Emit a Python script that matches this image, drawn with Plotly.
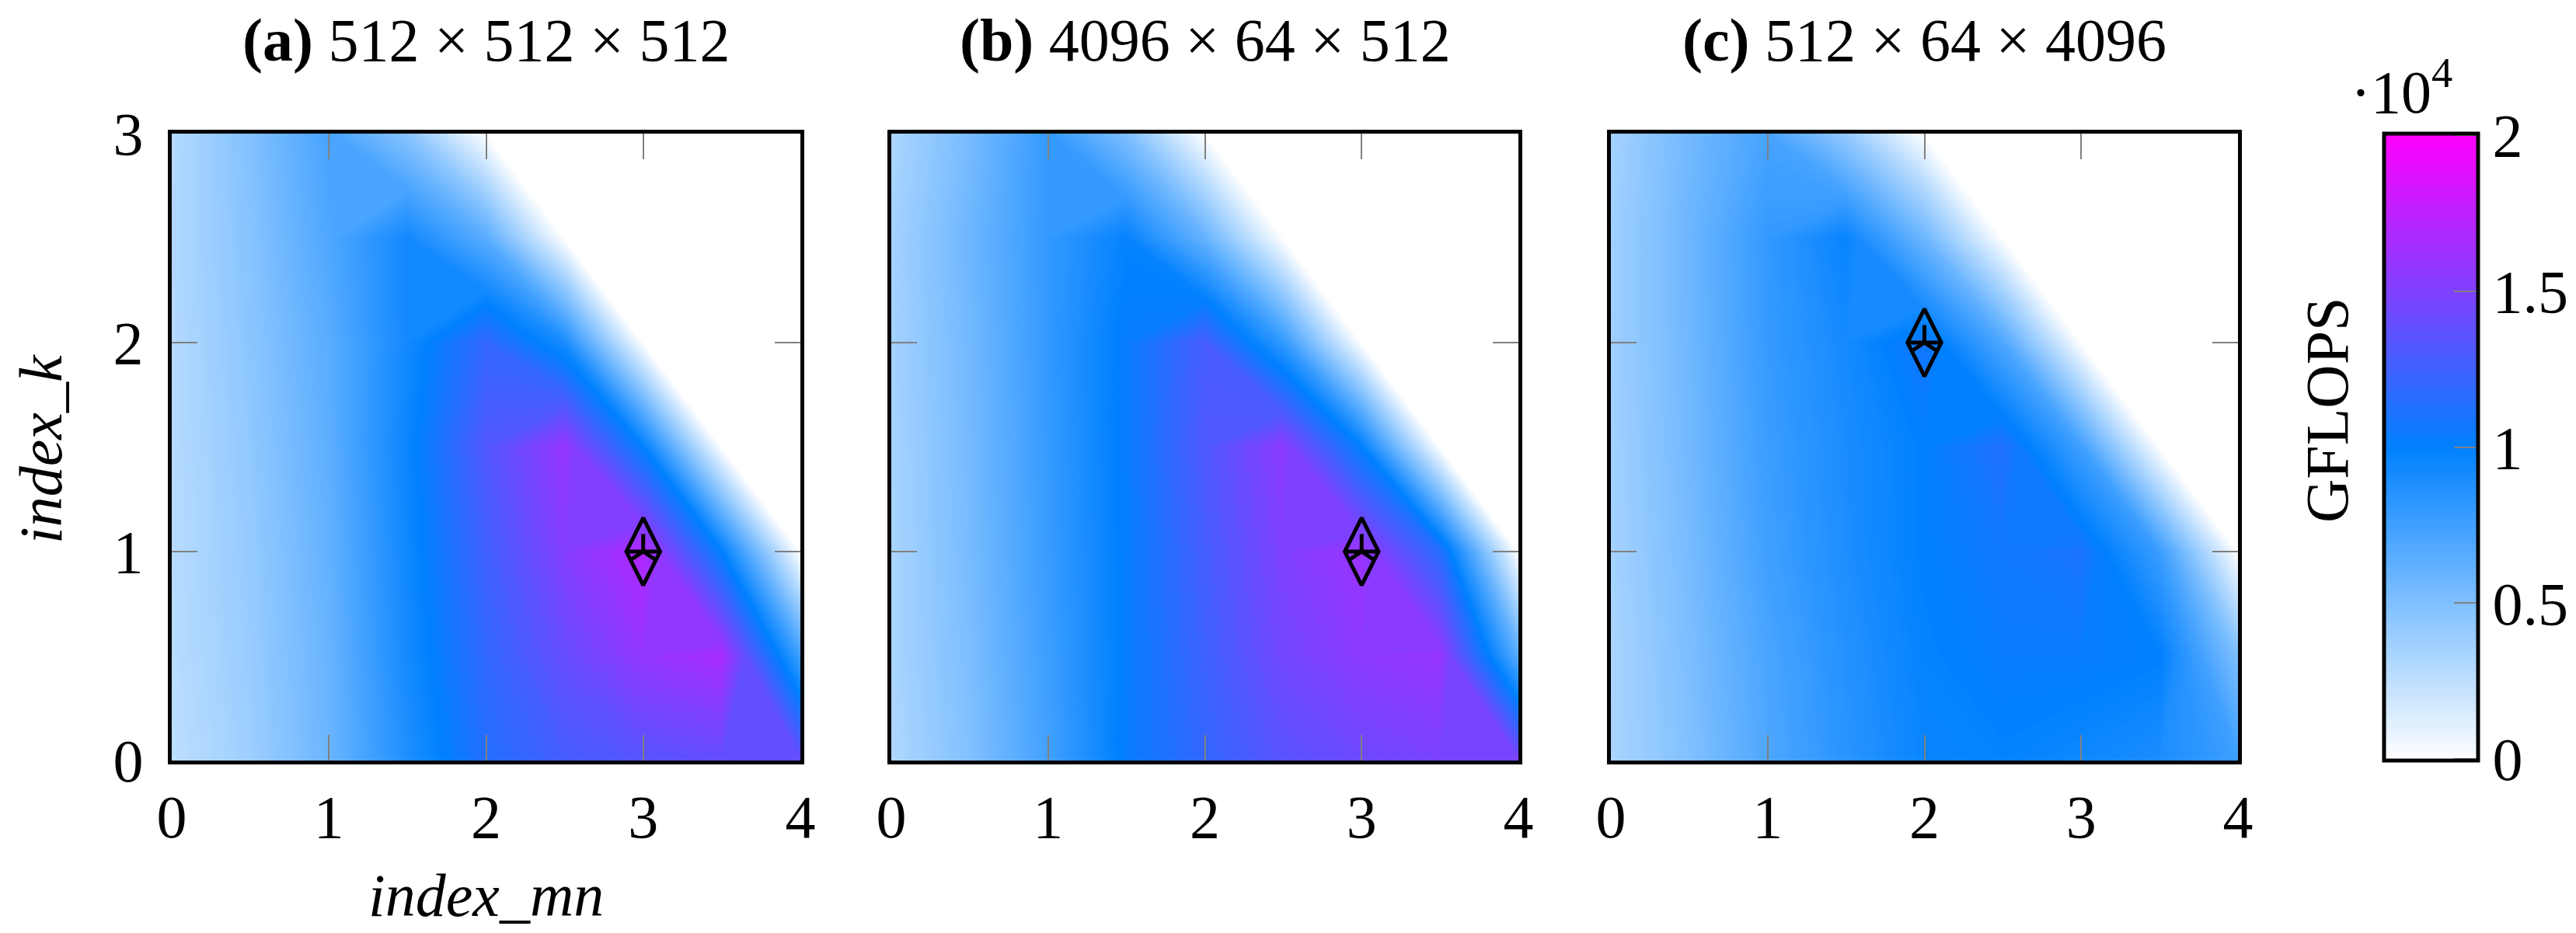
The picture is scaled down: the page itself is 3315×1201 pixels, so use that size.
import plotly.graph_objects as go

W, H = 3315, 1201

# ---------------- data ----------------
index_mn = [0, 0.5, 1, 1.5, 2, 2.5, 3, 3.5, 4]
index_k = [0, 0.5, 1, 1.5, 2, 2.5, 3]

# GFLOPS, rows = index_k (bottom to top), columns = index_mn
gflops_a = [
    [2500, 3800, 5800, 8800, 11400, 12700, 13400, 13900, 14000],
    [2700, 4000, 5900, 9200, 11900, 14000, 15800, 16600, 7500],
    [2800, 4100, 6100, 9400, 12500, 15200, 17000, 10000, 0],
    [2800, 4300, 6300, 9600, 13200, 15900, 10000, 0, 0],
    [2900, 4500, 6500, 9300, 12000, 9000, 0, 0, 0],
    [3000, 4700, 6900, 9300, 6500, 0, 0, 0, 0],
    [2900, 4900, 7200, 4600, 0, 0, 0, 0, 0],
]
gflops_b = [
    [3100, 4900, 7400, 10300, 12000, 13500, 14300, 14800, 14800],
    [3300, 5100, 7600, 10200, 12400, 14500, 15500, 15900, 6500],
    [3300, 5300, 7800, 10200, 12700, 15000, 16100, 11500, 0],
    [3400, 5400, 7900, 10300, 13100, 15500, 10000, 0, 0],
    [3500, 5500, 8000, 10300, 12800, 8000, 0, 0, 0],
    [3500, 5700, 8000, 9800, 6000, 0, 0, 0, 0],
    [3200, 5300, 8000, 5000, 0, 0, 0, 0, 0],
]
gflops_c = [
    [3300, 4900, 6900, 8400, 9600, 9800, 9400, 8900, 7600],
    [3300, 5100, 7100, 8600, 9800, 10300, 10300, 10000, 5000],
    [3500, 5300, 7500, 8900, 10000, 10600, 11000, 7700, 0],
    [3600, 5500, 7700, 9000, 10000, 11300, 7500, 0, 0],
    [3700, 5600, 7900, 9200, 10800, 6900, 0, 0, 0],
    [3700, 5700, 8000, 9700, 5700, 0, 0, 0, 0],
    [3500, 5500, 7200, 4200, 0, 0, 0, 0, 0],
]
panel_titles = [
    "<b>(a)</b> 512 × 512 × 512",
    "<b>(b)</b> 4096 × 64 × 512",
    "<b>(c)</b> 512 × 64 × 4096",
]
best_mn = [3, 3, 2]
best_k = [1, 1, 2]

x_ticks = [0, 1, 2, 3, 4]
y_ticks = [0, 1, 2, 3]
cbar_vals = [0, 5000, 10000, 15000, 20000]
cbar_text = ["0", "0.5", "1", "1.5", "2"]

# ---------------- layout geometry (pixels) ----------------
panel_px = [(213, 1022), (1139, 1946), (2065, 2872)]
top_px, bot_px = 164, 971
cb_left, cb_right = 3060, 3181

FONT = "Liberation Serif"
FS = 78
GRAY = "#808080"
CSCALE = [[0, "rgb(255,255,255)"], [0.5, "rgb(0,128,255)"], [1, "rgb(255,0,255)"]]


def px_x(p):
    return p / W


def px_y(p):
    return 1 - p / H


fig = go.Figure()
zs = [gflops_a, gflops_b, gflops_c]

for i in range(3):
    ax = "" if i == 0 else str(i + 1)
    fig.add_trace(go.Contour(
        x=index_mn, y=index_k, z=zs[i],
        coloraxis="coloraxis", xaxis="x" + ax, yaxis="y" + ax,
        autocontour=False,
        contours=dict(start=0, end=20000, size=100, coloring="fill", showlines=False),
        line=dict(width=0, smoothing=0),
        hoverinfo="skip",
    ))
    for sym, size in [("diamond-tall-open", 62), ("y-up-open", 28), ("line-ew-open", 27)]:
        fig.add_trace(go.Scatter(
            x=[best_mn[i]], y=[best_k[i]], mode="markers",
            xaxis="x" + ax, yaxis="y" + ax, showlegend=False,
            marker=dict(symbol=sym, size=size, color="black",
                        line=dict(color="black", width=5)),
            hoverinfo="skip",
        ))

layout = dict(
    width=W, height=H,
    margin=dict(l=0, r=0, t=0, b=0, autoexpand=False),
    paper_bgcolor="white", plot_bgcolor="white",
    showlegend=False,
    font=dict(family=FONT, size=FS, color="black"),
    coloraxis=dict(
        cmin=0, cmax=20000,
        colorscale=CSCALE,
        colorbar=dict(
            x=px_x(cb_left), xanchor="left", xref="paper",
            y=px_y(bot_px), yanchor="bottom", yref="paper",
            len=(bot_px - top_px) / H, lenmode="fraction",
            thickness=cb_right - cb_left, thicknessmode="pixels",
            xpad=0, ypad=0,
            outlinewidth=5, outlinecolor="black",
            tickvals=cbar_vals, ticktext=cbar_text,
            ticks="inside", ticklen=33, tickwidth=2, tickcolor=GRAY,
            tickfont=dict(family=FONT, size=FS, color="black"),
        ),
    ),
)

for i in range(3):
    ax = "" if i == 0 else str(i + 1)
    l, r = panel_px[i]
    layout["xaxis" + ax] = dict(
        domain=[px_x(l), px_x(r)], range=[0, 4], anchor="y" + ax,
        tickvals=x_ticks, ticks="inside", ticklen=33, tickwidth=2, tickcolor=GRAY,
        showline=True, linewidth=5, linecolor="black", mirror="ticks",
        showgrid=False, zeroline=False, ticklabelstandoff=0, automargin=False,
        tickfont=dict(family=FONT, size=FS, color="black"),
    )
    layout["yaxis" + ax] = dict(
        domain=[px_y(bot_px), px_y(top_px)], range=[0, 3], anchor="x" + ax,
        tickvals=y_ticks, ticks="inside", ticklen=33, tickwidth=2, tickcolor=GRAY,
        showline=True, linewidth=5, linecolor="black", mirror="ticks",
        showgrid=False, zeroline=False, showticklabels=(i == 0),
        ticklabelstandoff=16, automargin=False,
        tickfont=dict(family=FONT, size=FS, color="black"),
    )

annotations = []
for i in range(3):
    l, r = panel_px[i]
    annotations.append(dict(
        text=panel_titles[i], x=px_x((l + r) / 2), y=px_y(43),
        xref="paper", yref="paper", xanchor="center", yanchor="middle",
        showarrow=False, font=dict(family=FONT, size=FS, color="black"),
    ))
annotations.append(dict(
    text="<i>index_mn</i>", x=px_x((panel_px[0][0] + panel_px[0][1]) / 2), y=px_y(1144),
    xref="paper", yref="paper", xanchor="center", yanchor="middle",
    showarrow=False, font=dict(family=FONT, size=FS, color="black"),
))
annotations.append(dict(
    text="<i>index_k</i>", x=px_x(44), y=px_y(570), textangle=-90,
    xref="paper", yref="paper", xanchor="center", yanchor="middle",
    showarrow=False, font=dict(family=FONT, size=FS, color="black"),
))
annotations.append(dict(
    text="GFLOPS", x=px_x(2986), y=px_y(520), textangle=-90,
    xref="paper", yref="paper", xanchor="center", yanchor="middle",
    showarrow=False, font=dict(family=FONT, size=FS, color="black"),
))
annotations.append(dict(
    text="·10<sup>4</sup>", x=px_x(3082), y=px_y(104),
    xref="paper", yref="paper", xanchor="center", yanchor="middle",
    showarrow=False, font=dict(family=FONT, size=FS, color="black"),
))
layout["annotations"] = annotations

fig.update_layout(**layout)
fig.write_html("out.html")
